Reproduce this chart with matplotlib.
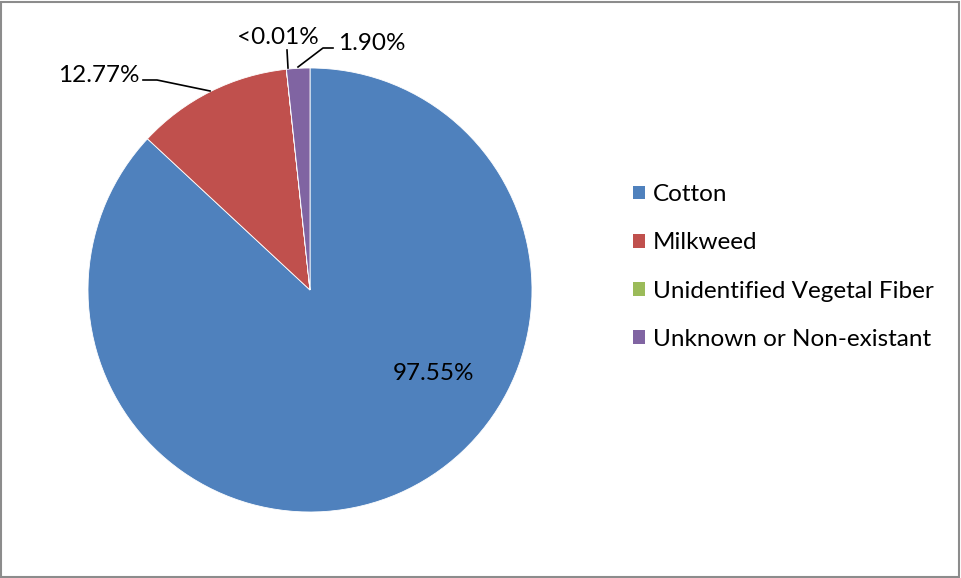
import matplotlib
matplotlib.use("Agg")
from matplotlib import pyplot as plt
from matplotlib.patches import Rectangle

# data
categories = ["Cotton", "Milkweed", "Unidentified Vegetal Fiber", "Unknown or Non-existant"]
values = [97.55, 12.77, 0.005, 1.90]
value_labels = ["97.55%", "12.77%", "<0.01%", "1.90%"]
colors = ["#4F81BD", "#C0504D", "#9BBB59", "#8064A2"]

plt.rcParams['font.family'] = ['Lato', 'DejaVu Sans']

W, H = 961, 578
fig = plt.figure(figsize=(W / 100, H / 100), dpi=100)

# pie area in pixels: centre (310, 290), radius 222
cx, cy, r = 310, 290, 222
ax = fig.add_axes([(cx - r) / W, (H - cy - r) / H, 2 * r / W, 2 * r / H])
wedges, _ = ax.pie(values, colors=colors, startangle=90, counterclock=False,
                   radius=1, wedgeprops=dict(linewidth=0.6, edgecolor="white"))
ax.set_xlim(-1, 1)
ax.set_ylim(-1, 1)
ax.set_aspect("equal")
ax.axis("off")


def px(x, y):
    # pixel coords (top-left origin) -> figure fraction
    return x / W, 1 - y / H


fs = 17.5
# data labels
fig.text(*px(433, 373), value_labels[0], ha="center", va="center", fontsize=fs)
fig.text(*px(99, 76), value_labels[1], ha="center", va="center", fontsize=fs)
fig.text(*px(278, 38), value_labels[2], ha="center", va="center", fontsize=fs)
fig.text(*px(372, 43), value_labels[3], ha="center", va="center", fontsize=fs)

# leader lines
leaders = [
    [(143, 80), (157, 80), (210, 91)],
    [(287, 50), (288, 68)],
    [(333, 48), (323, 48), (298, 67)],
]
for pts in leaders:
    xs = [p[0] / W for p in pts]
    ys = [1 - p[1] / H for p in pts]
    fig.add_artist(plt.Line2D(xs, ys, color="black", linewidth=1.2,
                              transform=fig.transFigure))

# legend
fspx = fs * 100 / 72
handles = [Rectangle((0, 0), 1, 1, facecolor=c, edgecolor="none") for c in colors]
fig.legend(handles, categories, loc="center left", bbox_to_anchor=(633 / W, 1 - 267 / H),
           frameon=False, fontsize=fs, labelspacing=1.12, handlelength=12 / fspx,
           handleheight=12 / fspx, handletextpad=8 / fspx, borderpad=0, borderaxespad=0)

# chart border
fig.add_artist(Rectangle((1 / W, 1 / H), 1 - 3 / W, 1 - 3 / H, fill=False,
                         edgecolor="#8c8c8c", linewidth=1.5, transform=fig.transFigure))

fig.savefig("out.png", dpi=100)
